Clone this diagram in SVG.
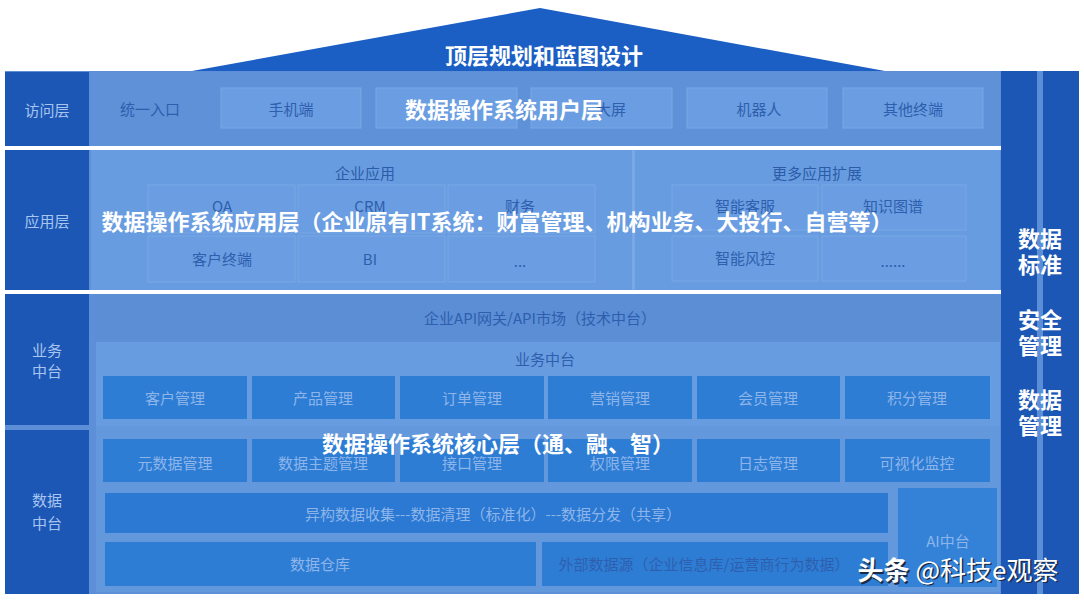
<svg xmlns="http://www.w3.org/2000/svg" width="1084" height="600" viewBox="0 0 1084 600">
<defs>
<style>
text{font-family:"Noto Sans CJK SC","Liberation Sans",sans-serif;text-anchor:middle;dominant-baseline:central}
.lab{fill:#a8c5ef;font-size:15px}
.dark{fill:#1c57b5}
.bg{fill:#5c8fd7}
.pan{fill:#689ce0}
.abox{fill:#6a9de1;stroke:#79a8e6;stroke-width:1}
.bbox{fill:#2e7dd5}
.btx{fill:#8db5ea;font-size:15px}
.ttl{fill:#2c5ca8;font-size:15px}
.atx{fill:#2e5fae;font-size:15px}
.big{fill:#ffffff;font-size:22px;font-weight:700}
.rt{fill:#ffffff;font-size:22px;font-weight:700}
.sep{fill:#ffffff}
</style>
</defs>
<rect width="1084" height="600" fill="#ffffff"/>
<g id="roof">
<polygon points="192,71 540,8 885,71" fill="#1b5fc5"/>
<text x="544" y="54" class="big">顶层规划和蓝图设计</text>
</g>
<g id="frame">
<rect x="5" y="71" width="1074" height="523" class="bg"/>
<rect x="1001" y="71" width="78" height="523" class="dark"/>
<rect x="1037" y="71" width="6" height="523" fill="#5a8fd8"/>
</g>
<g id="access-layer">
<rect x="5" y="72" width="84" height="74" class="dark"/>
<text x="47" y="109" class="lab">访问层</text>
<rect x="91" y="72" width="909" height="74" fill="#5e91d8"/>
<text x="150" y="108" class="atx">统一入口</text>
<rect x="221" y="88" width="140" height="40" class="abox"/>
<text x="291" y="108" class="atx">手机端</text>
<rect x="376" y="88" width="141" height="40" class="abox"/>
<rect x="531" y="88" width="141" height="40" class="abox"/>
<text x="611" y="108" class="atx">大屏</text>
<rect x="687" y="88" width="140" height="40" class="abox"/>
<text x="759" y="108" class="atx">机器人</text>
<rect x="843" y="88" width="140" height="40" class="abox"/>
<text x="913" y="108" class="atx">其他终端</text>
<text x="504" y="108" class="big">数据操作系统用户层</text>
</g>
<rect x="5" y="146" width="996" height="4" class="sep"/>
<g id="app-layer">
<rect x="5" y="150" width="84" height="140" class="dark"/>
<text x="47" y="220" class="lab">应用层</text>
<rect x="91" y="150" width="541" height="140" class="pan"/>
<rect x="635" y="150" width="365" height="140" class="pan"/>
<rect x="632" y="150" width="3" height="140" fill="#7aa8e4"/>
<text x="365" y="172" class="ttl">企业应用</text>
<text x="817" y="172" class="ttl">更多应用扩展</text>
<rect x="148" y="185" width="147" height="48" class="abox"/>
<rect x="298" y="185" width="147" height="48" class="abox"/>
<rect x="448" y="185" width="147" height="48" class="abox"/>
<rect x="148" y="236" width="147" height="46" class="abox"/>
<rect x="298" y="236" width="147" height="46" class="abox"/>
<rect x="448" y="236" width="147" height="46" class="abox"/>
<text x="222" y="205" class="atx">OA</text>
<text x="370" y="205" class="atx">CRM</text>
<text x="520" y="205" class="atx">财务</text>
<text x="222" y="258" class="atx">客户终端</text>
<text x="370" y="258" class="atx">BI</text>
<text x="520" y="260" class="atx">...</text>
<rect x="672" y="185" width="146" height="45" class="abox"/>
<rect x="822" y="185" width="144" height="45" class="abox"/>
<rect x="672" y="236" width="146" height="45" class="abox"/>
<rect x="822" y="236" width="144" height="45" class="abox"/>
<text x="745" y="205" class="atx">智能客服</text>
<text x="893" y="205" class="atx">知识图谱</text>
<text x="745" y="257" class="atx">智能风控</text>
<text x="893" y="260" class="atx">......</text>
<text x="497" y="220" class="big">数据操作系统应用层（企业原有IT系统：财富管理、机构业务、大投行、自营等）</text>
</g>
<rect x="5" y="290" width="996" height="4" class="sep"/>
<g id="business-layer">
<rect x="5" y="294" width="84" height="131" class="dark"/>
<text x="47" y="349" class="lab">业务</text>
<text x="47" y="370" class="lab">中台</text>
<rect x="95" y="294" width="905" height="46" fill="#5b8ed5"/>
<text x="540" y="317" class="atx">企业API网关/API市场（技术中台）</text>
<rect x="96" y="342" width="904" height="84" class="pan"/>
<text x="545" y="358" class="atx">业务中台</text>
<rect x="103" y="376" width="144" height="43" class="bbox"/>
<rect x="252" y="376" width="143" height="43" class="bbox"/>
<rect x="400" y="376" width="144" height="43" class="bbox"/>
<rect x="548" y="376" width="144" height="43" class="bbox"/>
<rect x="697" y="376" width="143" height="43" class="bbox"/>
<rect x="845" y="376" width="145" height="43" class="bbox"/>
<text x="175" y="397" class="btx">客户管理</text>
<text x="323" y="397" class="btx">产品管理</text>
<text x="472" y="397" class="btx">订单管理</text>
<text x="620" y="397" class="btx">营销管理</text>
<text x="768" y="397" class="btx">会员管理</text>
<text x="917" y="397" class="btx">积分管理</text>
</g>
<g id="data-layer">
<rect x="5" y="430" width="84" height="164" class="dark"/>
<text x="47" y="499" class="lab">数据</text>
<text x="47" y="522" class="lab">中台</text>
<rect x="96" y="426" width="904" height="166" fill="#6498dc"/>
<rect x="103" y="439" width="144" height="43" class="bbox"/>
<rect x="252" y="439" width="143" height="43" class="bbox"/>
<rect x="400" y="439" width="144" height="43" class="bbox"/>
<rect x="548" y="439" width="144" height="43" class="bbox"/>
<rect x="697" y="439" width="143" height="43" class="bbox"/>
<rect x="845" y="439" width="145" height="43" class="bbox"/>
<text x="175" y="462" class="btx">元数据管理</text>
<text x="323" y="462" class="btx">数据主题管理</text>
<text x="472" y="462" class="btx">接口管理</text>
<text x="620" y="462" class="btx">权限管理</text>
<text x="768" y="462" class="btx">日志管理</text>
<text x="917" y="462" class="btx">可视化监控</text>
<rect x="105" y="493" width="783" height="40" fill="#2b79d3"/>
<text x="493" y="513" class="btx">异构数据收集---数据清理（标准化）---数据分发（共享）</text>
<rect x="105" y="542" width="431" height="44" class="bbox"/>
<text x="320" y="563" class="btx">数据仓库</text>
<rect x="542" y="542" width="346" height="44" class="bbox"/>
<text x="704" y="563" class="atx">外部数据源（企业信息库/运营商行为数据）</text>
<rect x="898" y="488" width="99" height="99" fill="#3382d8"/>
<text x="948" y="540" class="btx">AI中台</text>
<text x="498" y="442" class="big">数据操作系统核心层（通、融、智）</text>
</g>
<g id="side-column">
<text x="1040" y="237" class="rt">数据</text>
<text x="1040" y="263" class="rt">标准</text>
<text x="1040" y="318" class="rt">安全</text>
<text x="1040" y="344" class="rt">管理</text>
<text x="1040" y="398" class="rt">数据</text>
<text x="1040" y="424" class="rt">管理</text>
</g>
<g id="watermark">
<text x="958" y="568" style="font-size:26px;fill:#1a2a44" transform="translate(1.5,1.5)"><tspan font-weight="700">头条</tspan> @科技e观察</text>
<text x="958" y="568" style="font-size:26px;fill:#ffffff"><tspan font-weight="700">头条</tspan> @科技e观察</text>
</g>
</svg>
